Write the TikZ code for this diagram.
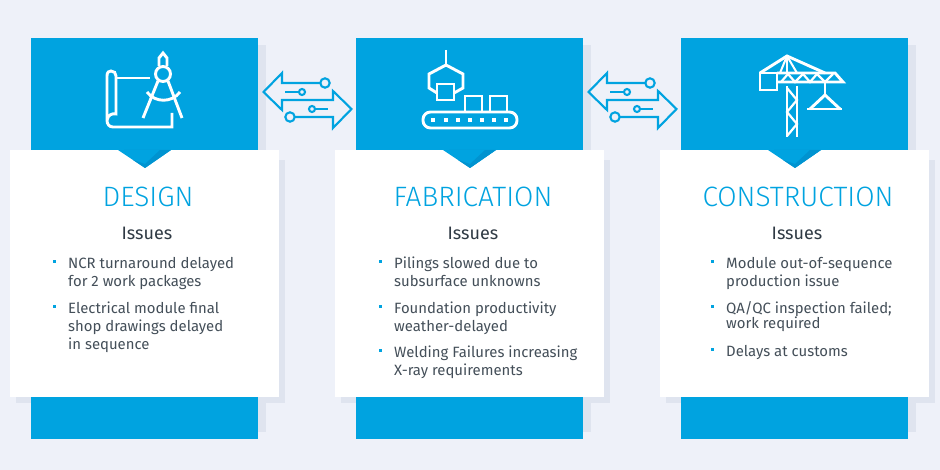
\documentclass[tikz,border=0pt]{standalone}
\usepackage{fontspec}
\setmainfont{Fira Sans}
\newfontfamily\lightfont{Fira Sans}[UprightFont=* Light]
\definecolor{bgc}{HTML}{EEF1F9}
\definecolor{shadowc}{HTML}{DFE4EF}
\definecolor{bluec}{HTML}{00A3E0}
\definecolor{notchc}{HTML}{0093D0}
\definecolor{textc}{HTML}{444F59}
\definecolor{subc}{HTML}{2F3A44}
\tikzset{
  icon/.style={draw=white,line width=2.9pt,line join=miter,fill=none},
  linkicon/.style={draw=bluec,line width=2.1pt,line join=miter,fill=none},
  heading/.style={text=bluec,font=\lightfont\fontsize{28}{28}\selectfont,anchor=base,inner sep=0pt},
  subhead/.style={text=subc,font=\fontsize{18}{18}\selectfont,anchor=base,inner sep=0pt},
  item/.style={text=textc,font=\fontsize{14.9}{14.9}\selectfont,anchor=base west,inner sep=0pt},
  dotmark/.style={fill=bluec,draw=none,minimum size=3pt,inner sep=0pt}
}
\newcommand{\panelbg}[1]{%
  \begin{scope}[xshift=#1pt]
    \fill[shadowc] (36,45) rectangle (266,432);
    \fill[shadowc] (16,160) rectangle (285,403);
    \fill[bluec] (31,38) rectangle (258,439);
    \fill[white] (10,150) rectangle (279,397);
    \fill[bluec] (118,150) -- (171,150) -- (145,168) -- cycle;
    \fill[notchc] (124,150) -- (171,150) -- (145,168) -- (133,160) -- (145,164) -- (160,150) -- cycle;
  \end{scope}}
\newcommand{\linkarrows}[1]{%
  \begin{scope}[xshift=#1pt,linkicon]
    \draw (320.5,83) -- (282,83) -- (282,73) -- (263.5,92) -- (282,110) -- (282,100) -- (333,100) -- (333,91) -- (351.5,109) -- (333,128) -- (333,117) -- (295,117);
    \draw (325,83) circle (4.7);
    \draw (290,117) circle (4.7);
    \draw (285,92) -- (299,92);
    \draw (302,92) circle (3);
    \draw (312,109) circle (3);
    \draw (315,109) -- (328,109);
  \end{scope}}
\begin{document}
\begin{tikzpicture}[x=1pt,y=-1pt]
\useasboundingbox (0,0) rectangle (940,470);
\fill[bgc] (0,0) rectangle (940,470);
\panelbg{0}
\panelbg{325}
\panelbg{650}
\linkarrows{0}
\linkarrows{325}
% design icon
\begin{scope}[icon]
  \draw (117,78) -- (150,78);
  \draw (172,113) -- (172,127) -- (113,127) .. controls (109,127) and (107,124) .. (107,120) -- (107,76) .. controls (107,72) and (109,71) .. (111,71) .. controls (114,71) and (116,73) .. (116,76) -- (116,114) .. controls (112,113) and (108,115) .. (107,120);
  \draw (163,74) circle (7.5);
  \draw (159,66) -- (159,58) -- (163,53) -- (167,58) -- (167,66);
  \draw (158,81) -- (143,118);
  \draw (168,81) -- (182,118);
  \draw (147,92) .. controls (155,103) and (172,103) .. (180,92);
\end{scope}
% fabrication icon
\begin{scope}[icon]
  \draw (446,50) -- (446,65);
  \draw (437,93) -- (429,88) -- (429,74) -- (446,65) -- (463,74) -- (463,88) -- (454,93);
  \draw (437,84) rectangle (454,100);
  \draw (465,112) -- (465,96) -- (482,96) -- (482,112);
  \draw (490,112) -- (490,96) -- (507,96) -- (507,112);
  \draw[rounded corners=7.5pt] (423,112) rectangle (517,128);
\end{scope}
\foreach \px in {433,446,458,470,482,494,506}{\fill[white] (\px-1.8,118.2) rectangle (\px+1.8,121.8);}
% construction icon
\begin{scope}[icon]
  \draw (777,73) -- (835,73) -- (843,82) -- (777,82);
  \draw (760,73) rectangle (777,90);
  \draw (760,73) -- (787,56) -- (825,73);
  \draw[line width=2pt] (787,56) -- (787,73);
  \draw[line width=2pt] (787,56) -- (780,73);
  \draw[line width=2pt] (787,56) -- (797,73);
  \draw[line width=2.2pt] (781,82) -- (788,74) -- (795,82) -- (803,74) -- (810,82) -- (817,74) -- (825,82) -- (833,74);
  \draw (787,86) -- (787,137);
  \draw (797,86) -- (797,137);
  \draw[line width=2.2pt] (787,88) -- (797,100) -- (787,112) -- (797,124) -- (787,136);
  \draw (825,82) -- (825,95);
  \draw (807,109) -- (842,109);
  \draw (825,95) -- (810,109);
  \draw (825,95) -- (840,109);
\end{scope}
% text
\node[heading] (h1) at (148,207) {DESIGN};
\node[subhead] (s1) at (147,240) {Issues};
\node[dotmark] (b11) at (54,262) {};
\node[item] (t11) at (68,268.5) {NCR turnaround delayed};
\node[item] (t12) at (68,286.5) {for 2 work packages};
\node[dotmark] (b12) at (54,307) {};
\node[item] (t13) at (68,313.5) {Electrical module final};
\node[item] (t14) at (68,331.5) {shop drawings delayed};
\node[item] (t15) at (68,349.5) {in sequence};
\node[heading] (h2) at (473,207) {FABRICATION};
\node[subhead] (s2) at (473,240) {Issues};
\node[dotmark] (b21) at (380,262) {};
\node[item] (t21) at (394,268.5) {Pilings slowed due to};
\node[item] (t22) at (394,286.5) {subsurface unknowns};
\node[dotmark] (b22) at (380,307) {};
\node[item] (t23) at (394,314) {Foundation productivity};
\node[item] (t24) at (394,332) {weather-delayed};
\node[dotmark] (b23) at (380,351) {};
\node[item] (t25) at (394,357) {Welding Failures increasing};
\node[item] (t26) at (394,375) {X-ray requirements};
\node[heading] (h3) at (798,207) {CONSTRUCTION};
\node[subhead] (s3) at (797,240) {Issues};
\node[dotmark] (b31) at (712,262) {};
\node[item] (t31) at (726,268.5) {Module out-of-sequence};
\node[item] (t32) at (726,286.5) {production issue};
\node[dotmark] (b32) at (712,307) {};
\node[item] (t33) at (726,314) {QA/QC inspection failed;};
\node[item] (t34) at (726,329) {work required};
\node[dotmark] (b33) at (712,350) {};
\node[item] (t35) at (726,356) {Delays at customs};
\end{tikzpicture}
\end{document}
